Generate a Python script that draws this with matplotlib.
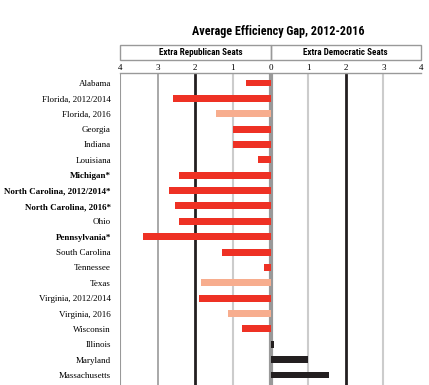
import matplotlib
matplotlib.use("Agg")
import matplotlib.pyplot as plt
from matplotlib.patches import Rectangle

states = ["Alabama", "Florida, 2012/2014", "Florida, 2016", "Georgia", "Indiana",
          "Louisiana", "Michigan*", "North Carolina, 2012/2014*", "North Carolina, 2016*",
          "Ohio", "Pennsylvania*", "South Carolina", "Tennessee", "Texas",
          "Virginia, 2012/2014", "Virginia, 2016", "Wisconsin", "Illinois",
          "Maryland", "Massachusetts"]
# negative = extra Republican seats, positive = extra Democratic seats
gap = [-0.66, -2.58, -1.45, -1.0, -1.0, -0.32, -2.42, -2.71, -2.53, -2.42,
       -3.39, -1.29, -0.18, -1.84, -1.89, -1.13, -0.76, 0.1, 1.0, 1.55]
kind = ["r", "r", "l", "r", "r", "r", "r", "r", "r", "r", "r", "r", "r", "l",
        "r", "l", "r", "d", "d", "d"]
bold = ["Michigan*", "North Carolina, 2012/2014*", "North Carolina, 2016*", "Pennsylvania*"]
ticks = [-4, -3, -2, -1, 0, 1, 2, 3, 4]

colors = {"r": "#ee3124", "l": "#f7ad8e", "d": "#231f20"}
serif = ["Liberation Serif", "DejaVu Serif"]
narrow = ["Roboto Condensed", "DejaVu Sans"]

fig = plt.figure(figsize=(4.29, 3.85), dpi=100)
ax = fig.add_axes([0.2797, 0.0, 0.7017, 0.8104])

# gridlines
grid_style = {-4: ("#999999", 1.5), -3: ("#999999", 1.2), -2: ("#231f20", 2.0),
              -1: ("#cccccc", 1.5), 0: ("#999999", 3.0), 1: ("#cccccc", 1.5),
              2: ("#231f20", 2.0), 3: ("#cccccc", 1.5)}
for x, (c, lw) in grid_style.items():
    ax.axvline(x, color=c, lw=lw, zorder=1)

ypos = list(range(len(states)))
ax.barh(ypos, gap, height=0.45, color=[colors[k] for k in kind], zorder=2)

ax.set_xlim(-4, 4)
ax.set_ylim(19.65, -0.65)
for s in ["left", "right", "bottom"]:
    ax.spines[s].set_visible(False)
ax.spines["top"].set_color("#999999")
ax.spines["top"].set_linewidth(1.0)

ax.xaxis.tick_top()
ax.set_xticks(ticks)
ax.set_xticklabels([str(abs(t)) for t in ticks], fontfamily=serif, fontsize=6.5)
ax.tick_params(axis="x", length=0, pad=1.0)

ax.set_yticks(ypos)
ax.set_yticklabels(states, fontfamily=serif, fontsize=6.5)
for lab in ax.get_yticklabels():
    if lab.get_text() in bold:
        lab.set_fontweight("bold")
ax.tick_params(axis="y", length=0, pad=6.5)

# header box
hx = fig.add_axes([0.2797, 0.8442, 0.7017, 0.039])
hx.set_xlim(-4, 4)
hx.set_ylim(0, 1)
hx.axis("off")
hx.add_patch(Rectangle((-4, 0), 4, 1, fill=False, ec="#999999", lw=1.0, clip_on=False))
hx.add_patch(Rectangle((0, 0), 4, 1, fill=False, ec="#999999", lw=1.0, clip_on=False))
hx.text(-1.85, 0.5, "Extra Republican Seats", ha="center", va="center",
        fontfamily=narrow, fontstretch="condensed", fontweight="bold", fontsize=6.5)
hx.text(2, 0.5, "Extra Democratic Seats", ha="center", va="center",
        fontfamily=narrow, fontstretch="condensed", fontweight="bold", fontsize=6.5)

fig.text(0.648, 0.918, "Average Efficiency Gap, 2012-2016", ha="center", va="center",
         fontfamily=narrow, fontstretch="condensed", fontweight="bold", fontsize=8.7)

fig.savefig("out.png", dpi=100)
